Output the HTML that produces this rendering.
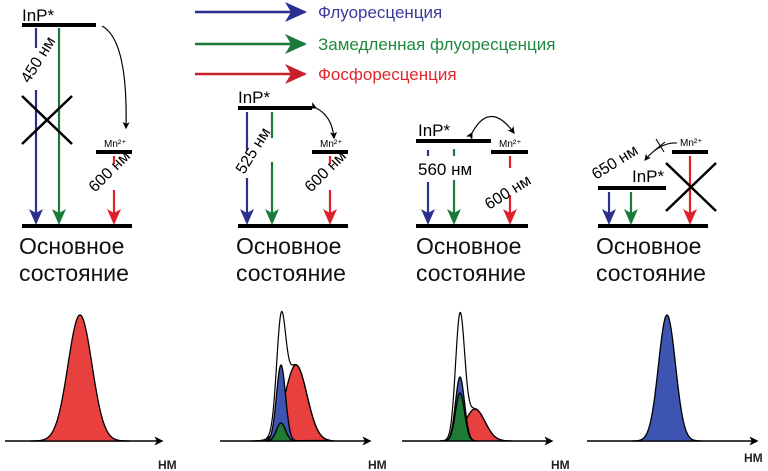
<!DOCTYPE html>
<html><head><meta charset="utf-8"><style>
html,body{margin:0;padding:0;background:#fff;}
svg{display:block;font-family:"Liberation Sans","DejaVu Sans",sans-serif;}
</style></head><body>
<svg id="s" width="768" height="471" viewBox="0 0 768 471" xmlns="http://www.w3.org/2000/svg">
<defs>
<marker id="ab" markerWidth="16" markerHeight="14" refX="13" refY="7" orient="auto" markerUnits="userSpaceOnUse"><path d="M0,0 L16,7 L0,14 L4,7Z" fill="#2b2f8f"/></marker>
<marker id="ag" markerWidth="16" markerHeight="14" refX="13" refY="7" orient="auto" markerUnits="userSpaceOnUse"><path d="M0,0 L16,7 L0,14 L4,7Z" fill="#1a7a3a"/></marker>
<marker id="ar" markerWidth="16" markerHeight="14" refX="13" refY="7" orient="auto" markerUnits="userSpaceOnUse"><path d="M0,0 L16,7 L0,14 L4,7Z" fill="#e0202a"/></marker>
<marker id="lb" markerWidth="22" markerHeight="20" refX="20" refY="10" orient="auto" markerUnits="userSpaceOnUse"><path d="M0,0 L22,10 L0,20 L6,10Z" fill="#2b2f8f"/></marker>
<marker id="lg" markerWidth="22" markerHeight="20" refX="20" refY="10" orient="auto" markerUnits="userSpaceOnUse"><path d="M0,0 L22,10 L0,20 L6,10Z" fill="#1a7a3a"/></marker>
<marker id="lr" markerWidth="22" markerHeight="20" refX="20" refY="10" orient="auto" markerUnits="userSpaceOnUse"><path d="M0,0 L22,10 L0,20 L6,10Z" fill="#c8202a"/></marker>
<marker id="ak" markerWidth="6" markerHeight="6" refX="5" refY="3" orient="auto" markerUnits="strokeWidth"><path d="M0,0 L6,3 L0,6 L1.5,3Z" fill="#000"/></marker>
</defs>
<!-- legend -->
<g stroke-width="2.5">
<line x1="195" y1="12" x2="305" y2="12" stroke="#2b2f8f" marker-end="url(#lb)"/>
<line x1="195" y1="44" x2="305" y2="44" stroke="#1a7a3a" marker-end="url(#lg)"/>
<line x1="195" y1="74" x2="305" y2="74" stroke="#c8202a" marker-end="url(#lr)"/>
</g>
<g font-size="17">
<text x="318" y="18" fill="#3a3a9a">Флуоресценция</text>
<text x="318" y="50" fill="#1e8a3e">Замедленная флуоресценция</text>
<text x="318" y="80" fill="#e0262d">Фосфоресценция</text>
</g>

<g font-size="23" fill="#111">
<text x="19" y="254">Основное</text><text x="19" y="281">состояние</text>
<text x="236" y="254">Основное</text><text x="236" y="281">состояние</text>
<text x="416" y="254">Основное</text><text x="416" y="281">состояние</text>
<text x="596" y="254">Основное</text><text x="596" y="281">состояние</text>
</g>

<!-- Panel 1 -->
<g stroke="#000" stroke-width="4">
<line x1="22" y1="25" x2="96" y2="25"/><line x1="96" y1="152" x2="132" y2="152"/><line x1="22" y1="226" x2="132" y2="226"/>
</g>
<text x="22" y="21" font-size="17">InP*</text>
<text x="104" y="147" font-size="10">Mn²⁺</text>
<g stroke-width="2.2">
<line x1="36" y1="28" x2="36" y2="48" stroke="#2b2f8f"/><line x1="36" y1="90" x2="36" y2="222" stroke="#2b2f8f" marker-end="url(#ab)"/>
<line x1="59" y1="28" x2="59" y2="222" stroke="#1a7a3a" marker-end="url(#ag)"/>
<line x1="114" y1="156" x2="114" y2="164" stroke="#e0202a"/><line x1="114" y1="190" x2="114" y2="222" stroke="#e0202a" marker-end="url(#ar)"/>
</g>
<text transform="translate(29,84) rotate(-58)" font-size="16">450 нм</text>
<text transform="translate(95,193) rotate(-45)" font-size="16">600 нм</text>
<path d="M102,26 Q128,40 126,128" fill="none" stroke="#000" stroke-width="1.2" marker-end="url(#ak)"/>
<g stroke="#000" stroke-width="2.5"><line x1="22" y1="96" x2="72" y2="144"/><line x1="72" y1="96" x2="22" y2="144"/></g>

<!-- Panel 2 -->
<g stroke="#000" stroke-width="4">
<line x1="238" y1="108" x2="312" y2="108"/><line x1="312" y1="152" x2="348" y2="152"/><line x1="238" y1="226" x2="348" y2="226"/>
</g>
<text x="238" y="103" font-size="17">InP*</text>
<text x="320" y="147" font-size="10">Mn²⁺</text>
<g stroke-width="2.2">
<line x1="247" y1="112" x2="247" y2="150" stroke="#2b2f8f"/><line x1="247" y1="178" x2="247" y2="222" stroke="#2b2f8f" marker-end="url(#ab)"/>
<line x1="272" y1="112" x2="272" y2="138" stroke="#1a7a3a"/><line x1="272" y1="162" x2="272" y2="222" stroke="#1a7a3a" marker-end="url(#ag)"/>
<line x1="330" y1="156" x2="330" y2="164" stroke="#e0202a"/><line x1="330" y1="190" x2="330" y2="222" stroke="#e0202a" marker-end="url(#ar)"/>
</g>
<text transform="translate(244,175) rotate(-58)" font-size="16">525 нм</text>
<text transform="translate(311,193) rotate(-45)" font-size="16">600 нм</text>
<path d="M316,108 Q332,116 334,138" fill="none" stroke="#000" stroke-width="1.2" marker-end="url(#ak)" marker-start="url(#ak)"/>

<!-- Panel 3 -->
<g stroke="#000" stroke-width="4">
<line x1="416" y1="141" x2="491" y2="141"/><line x1="491" y1="152" x2="528" y2="152"/><line x1="416" y1="226" x2="528" y2="226"/>
</g>
<text x="418" y="136" font-size="17">InP*</text>
<text x="499" y="147" font-size="10">Mn²⁺</text>
<g stroke-width="2.2">
<line x1="428" y1="150" x2="428" y2="156" stroke="#2b2f8f"/><line x1="428" y1="182" x2="428" y2="222" stroke="#2b2f8f" marker-end="url(#ab)"/>
<line x1="454" y1="149" x2="454" y2="156" stroke="#1a7a3a"/><line x1="454" y1="180" x2="454" y2="222" stroke="#1a7a3a" marker-end="url(#ag)"/>
<line x1="510" y1="156" x2="510" y2="168" stroke="#e0202a"/><line x1="510" y1="195" x2="510" y2="222" stroke="#e0202a" marker-end="url(#ar)"/>
</g>
<text x="418" y="175" font-size="17">560 нм</text>
<text transform="translate(489,210) rotate(-32)" font-size="16">600 нм</text>
<path d="M472,133 Q490,100 514,133" fill="none" stroke="#000" stroke-width="1.2" marker-end="url(#ak)" marker-start="url(#ak)"/>

<!-- Panel 4 -->
<g stroke="#000" stroke-width="4">
<line x1="672" y1="152" x2="708" y2="152"/><line x1="598" y1="188" x2="666" y2="188"/><line x1="598" y1="226" x2="708" y2="226"/>
</g>
<text x="632" y="182" font-size="17">InP*</text>
<text x="680" y="146" font-size="10">Mn²⁺</text>
<g stroke-width="2.2">
<line x1="609" y1="192" x2="609" y2="222" stroke="#2b2f8f" marker-end="url(#ab)"/>
<line x1="631" y1="192" x2="631" y2="222" stroke="#1a7a3a" marker-end="url(#ag)"/>
<line x1="690" y1="156" x2="690" y2="222" stroke="#e0202a" marker-end="url(#ar)"/>
</g>
<text transform="translate(596,180) rotate(-32)" font-size="16">650 нм</text>
<path d="M677,143 Q660,142 645,160" fill="none" stroke="#000" stroke-width="1.1" marker-end="url(#ak)"/>
<g stroke="#000" stroke-width="1.1"><line x1="656" y1="139" x2="664" y2="152"/><line x1="655" y1="150" x2="665" y2="142"/></g>
<g stroke="#000" stroke-width="2.5"><line x1="666" y1="163" x2="716" y2="211"/><line x1="716" y1="163" x2="666" y2="211"/></g>

<!-- spectra axes -->
<g stroke="#000" stroke-width="1.5">
<line x1="5" y1="441" x2="162" y2="441" marker-end="url(#ak)"/>
<line x1="220" y1="441" x2="370" y2="441" marker-end="url(#ak)"/>
<line x1="402" y1="441" x2="552" y2="441" marker-end="url(#ak)"/>
<line x1="587" y1="441" x2="757" y2="441" marker-end="url(#ak)"/>
</g>
<g font-size="12" font-weight="bold" fill="#222">
<text x="158" y="469">НМ</text><text x="368" y="469">НМ</text><text x="551" y="469">НМ</text><text x="744" y="462">НМ</text>
</g>
<g id="curves"></g>
</svg>
<script>
function g(c,h,s,x){return h*Math.exp(-(x-c)*(x-c)/(2*s*s));}
function path(x0,x1,f,close){var d="";for(var x=x0;x<=x1;x+=0.5){d+=(d?"L":"M")+x.toFixed(1)+","+(441-f(x)).toFixed(1);}if(close)d+="Z";return d;}
var G=document.getElementById("curves"),ns="http://www.w3.org/2000/svg";
function add(d,fill,sw){var p=document.createElementNS(ns,"path");p.setAttribute("d",d);p.setAttribute("fill",fill);p.setAttribute("stroke","#000");p.setAttribute("stroke-width",sw||1.3);G.appendChild(p);}
add(path(30,130,function(x){return g(80,126,12,x)},true),"#e8403f");
add(path(250,330,function(x){return g(296,76,11,x)},true),"#e8403f");
add(path(265,297,function(x){return g(281,76,4.5,x)},true),"#3d55b0");
add(path(265,297,function(x){return g(281,18,4.5,x)},true),"#1f7a34");
add(path(255,335,function(x){return g(296,76,11,x)+g(281,98,4.5,x)},false),"none",1.2);
add(path(440,510,function(x){return g(475,32,10,x)},true),"#e8403f");
add(path(444,476,function(x){return g(460,64,4.5,x)},true),"#3d55b0");
add(path(444,476,function(x){return g(460,48,4.5,x)},true),"#1f7a34");
add(path(440,512,function(x){return g(475,32,10,x)+g(460,118,4.5,x)},false),"none",1.2);
add(path(632,702,function(x){return g(667,126,8.5,x)},true),"#3d55b0");
</script>
</body></html>
